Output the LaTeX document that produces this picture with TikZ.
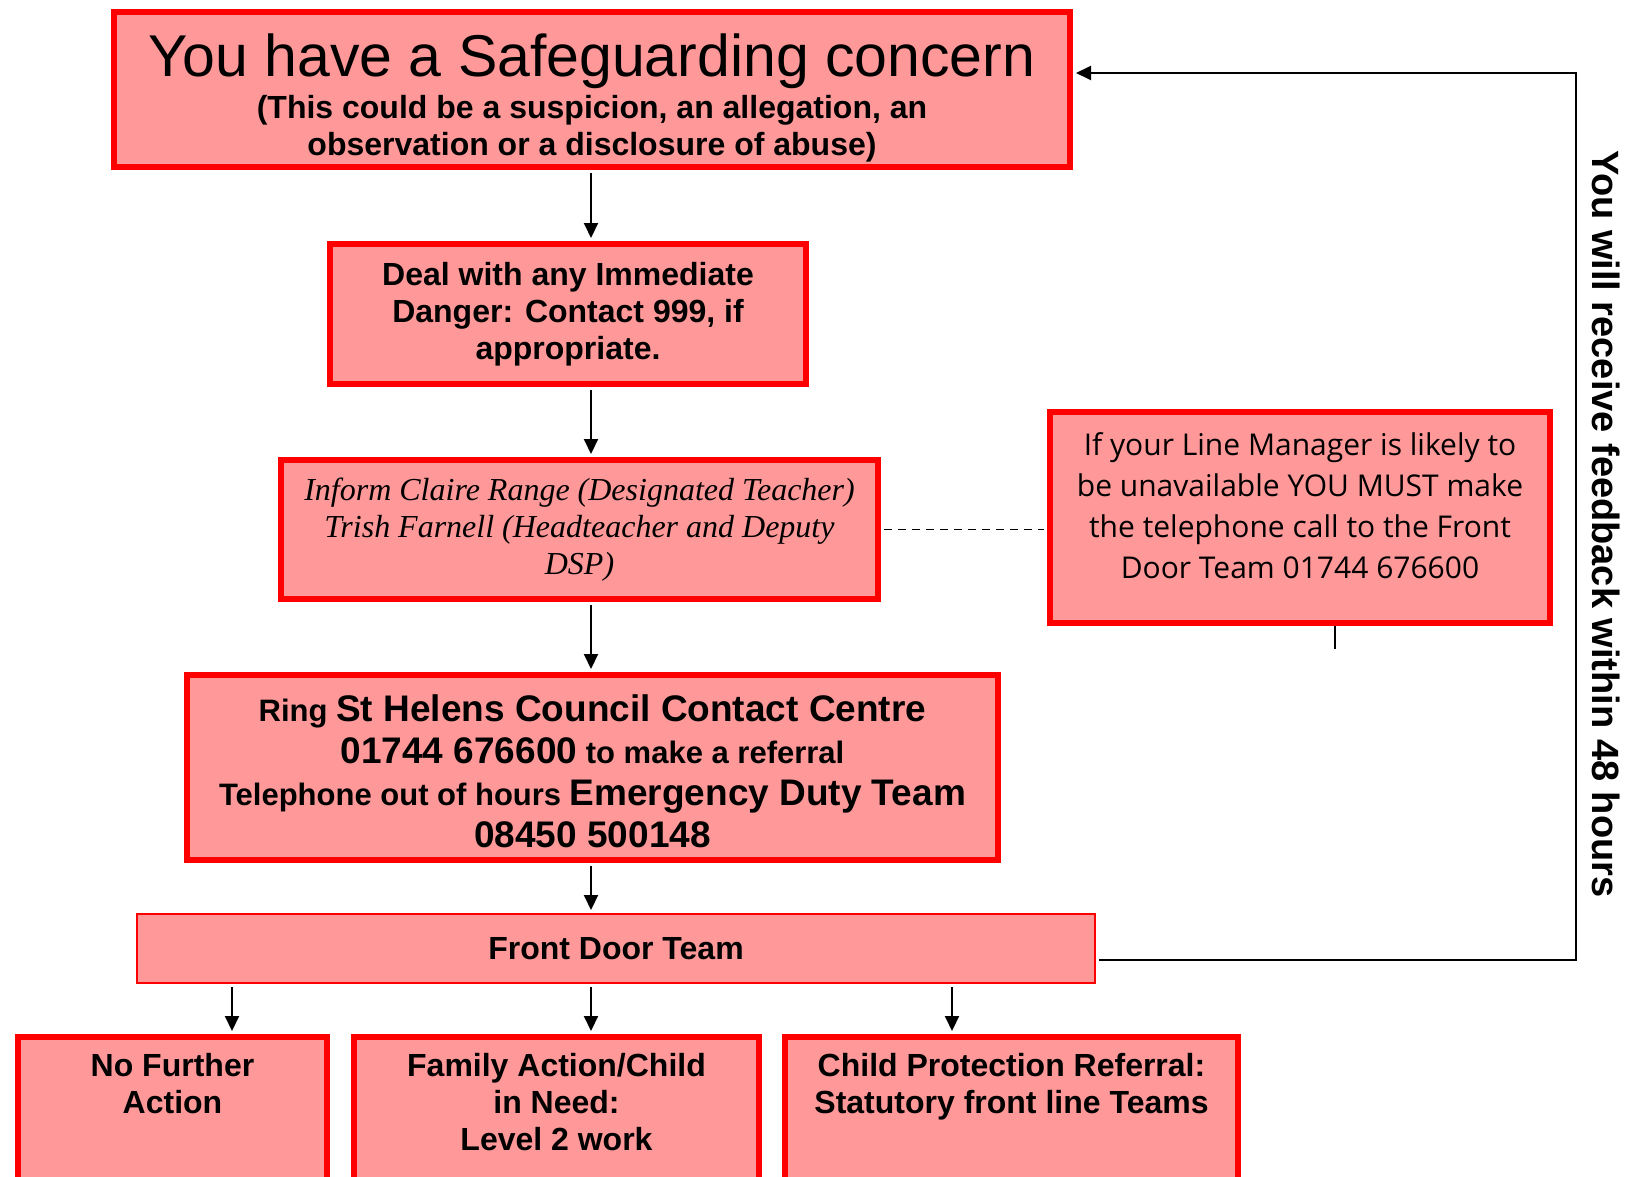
\documentclass[tikz,border=0pt]{standalone}
\usepackage{fontspec}
\setmainfont{Liberation Sans}
\newfontfamily\serifit{Liberation Serif}
\newfontfamily\handfont{Open Sans}
\usetikzlibrary{calc}
\usetikzlibrary{arrows.meta}

\definecolor{boxpink}{RGB}{255,153,153}
\definecolor{boxred}{RGB}{255,0,0}

\begin{document}
\begin{tikzpicture}[x=1pt,y=-1pt,
    redbox/.style={rectangle,draw=boxred,fill=boxpink,line width=6pt,inner sep=0pt,align=center},
    thinbox/.style={rectangle,draw=boxred,fill=boxpink,line width=2pt,inner sep=0pt,align=center},
    boldtxt/.style={inner sep=0pt,align=center,font=\fontsize{32}{37}\selectfont\bfseries},
    arr/.style={line width=2pt,shorten <=3pt,shorten >=3pt,-{Triangle[length=15pt,width=14pt]}},
    dashline/.style={line width=1.5pt,dash pattern=on 8pt off 6pt,shorten <=3pt,shorten >=3pt}]

            % Page size
            \useasboundingbox (0,0) rectangle (1627,1177);

            % Helper coordinates for the connectors
            \coordinate (spine) at (591,0);
            \coordinate (tick) at (1335,649);
            \coordinate (fbbot) at (1576,960);
            \coordinate (fbtop) at (1576,73);
            \coordinate (leftdrop) at (232,0);
            \coordinate (rightdrop) at (952,0);

            % Main column
            \node[redbox,minimum width=956pt,minimum height=155pt] (concern) at (592,89.5) {};
            \node[inner sep=0pt,align=center,font=\fontsize{32}{37}\selectfont] (concerntext) at ($(concern.center)+(0,8)$)
                {\fontsize{59}{62}\selectfont You have a Safeguarding concern\\[5pt]
                 \fontsize{32}{37}\selectfont\bfseries (This could be a suspicion, an allegation, an\\
                 \fontsize{32}{37}\selectfont\bfseries observation or a disclosure of abuse)};
            \node[redbox,minimum width=476pt,minimum height=140pt,font=\fontsize{32}{37}\selectfont\bfseries] (danger) at (568,314)
                {Deal with any Immediate\\Danger: Contact 999, if\\appropriate.};
            \node[redbox,minimum width=597pt,minimum height=139pt,font=\serifit\itshape\fontsize{32}{37}\selectfont] (inform) at (579.5,529.5)
                {Inform Claire Range (Designated Teacher)\\Trish Farnell (Headteacher and Deputy\\DSP)};
            \node[redbox,minimum width=811pt,minimum height=185pt] (ring) at (592.5,767.5) {};
            \node[inner sep=0pt,align=center,font=\fontsize{31}{42}\selectfont\bfseries] (ringtext) at ($(ring.center)+(0,4)$)
                {Ring {\fontsize{37}{42}\selectfont St Helens Council Contact Centre}\\
                 {\fontsize{37}{42}\selectfont 01744 676600} to make a referral\\
                 Telephone out of hours {\fontsize{37}{42}\selectfont Emergency Duty Team}\\
                 {\fontsize{37}{42}\selectfont 08450 500148}};
            \node[thinbox,minimum width=958pt,minimum height=69pt,font=\fontsize{32}{37}\selectfont\bfseries] (frontdoor) at (616,948.5)
                {Front Door Team};

            % Side note
            \node[redbox,minimum width=500pt,minimum height=211pt] (linemgr) at (1300,517.5) {};
            \node[inner sep=0pt,align=center,anchor=north,font=\handfont\fontsize{30}{41}\selectfont] (linemgrtext) at (1300,432)
                {If your Line Manager is likely to\\be unavailable YOU MUST make\\the telephone call to the Front\\Door Team 01744 676600};

            % Outcome boxes (cut by the page edge)
            \node[redbox,anchor=north,minimum width=309pt,minimum height=200pt] (nfa) at (172.5,1034) {};
            \node[redbox,anchor=north,minimum width=405pt,minimum height=200pt] (family) at (556.5,1034) {};
            \node[redbox,anchor=north,minimum width=453pt,minimum height=200pt] (cpr) at (1011.5,1034) {};
            \node[boldtxt,anchor=north] (nfatext) at (172.5,1053) {No Further\\Action};
            \node[boldtxt,anchor=north] (familytext) at (556.5,1053) {Family Action/Child\\in Need:\\Level 2 work};
            \node[boldtxt,anchor=north] (cprtext) at (1011.5,1053) {Child Protection Referral:\\Statutory front line Teams};

            % Feedback label
            \node[rotate=-90,inner sep=0pt,font=\fontsize{38}{40}\selectfont\bfseries] (feedback) at (1606,524)
                {You will receive feedback within 48 hours};

            % Draw connectors
            \draw[arr] (concern.south -| spine) -- (danger.north -| spine);
            \draw[arr] (danger.south -| spine) -- (inform.north -| spine);
            \draw[arr] (inform.south -| spine) -- (ring.north -| spine);
            \draw[arr] (ring.south -| spine) -- (frontdoor.north -| spine);
            \draw[arr] (frontdoor.south -| leftdrop) -- (nfa.north -| leftdrop);
            \draw[arr] (frontdoor.south -| spine) -- (family.north -| spine);
            \draw[arr] (frontdoor.south -| rightdrop) -- (cpr.north -| rightdrop);
            \draw[dashline] (inform.east) -- (inform.east -| linemgr.west);
            \draw[line width=2pt] (linemgr.south -| tick) -- (tick);
            \draw[arr] (frontdoor.east |- fbbot) -- (fbbot) -- (fbtop) -- (concern.east |- fbtop);
\end{tikzpicture}
\end{document}
